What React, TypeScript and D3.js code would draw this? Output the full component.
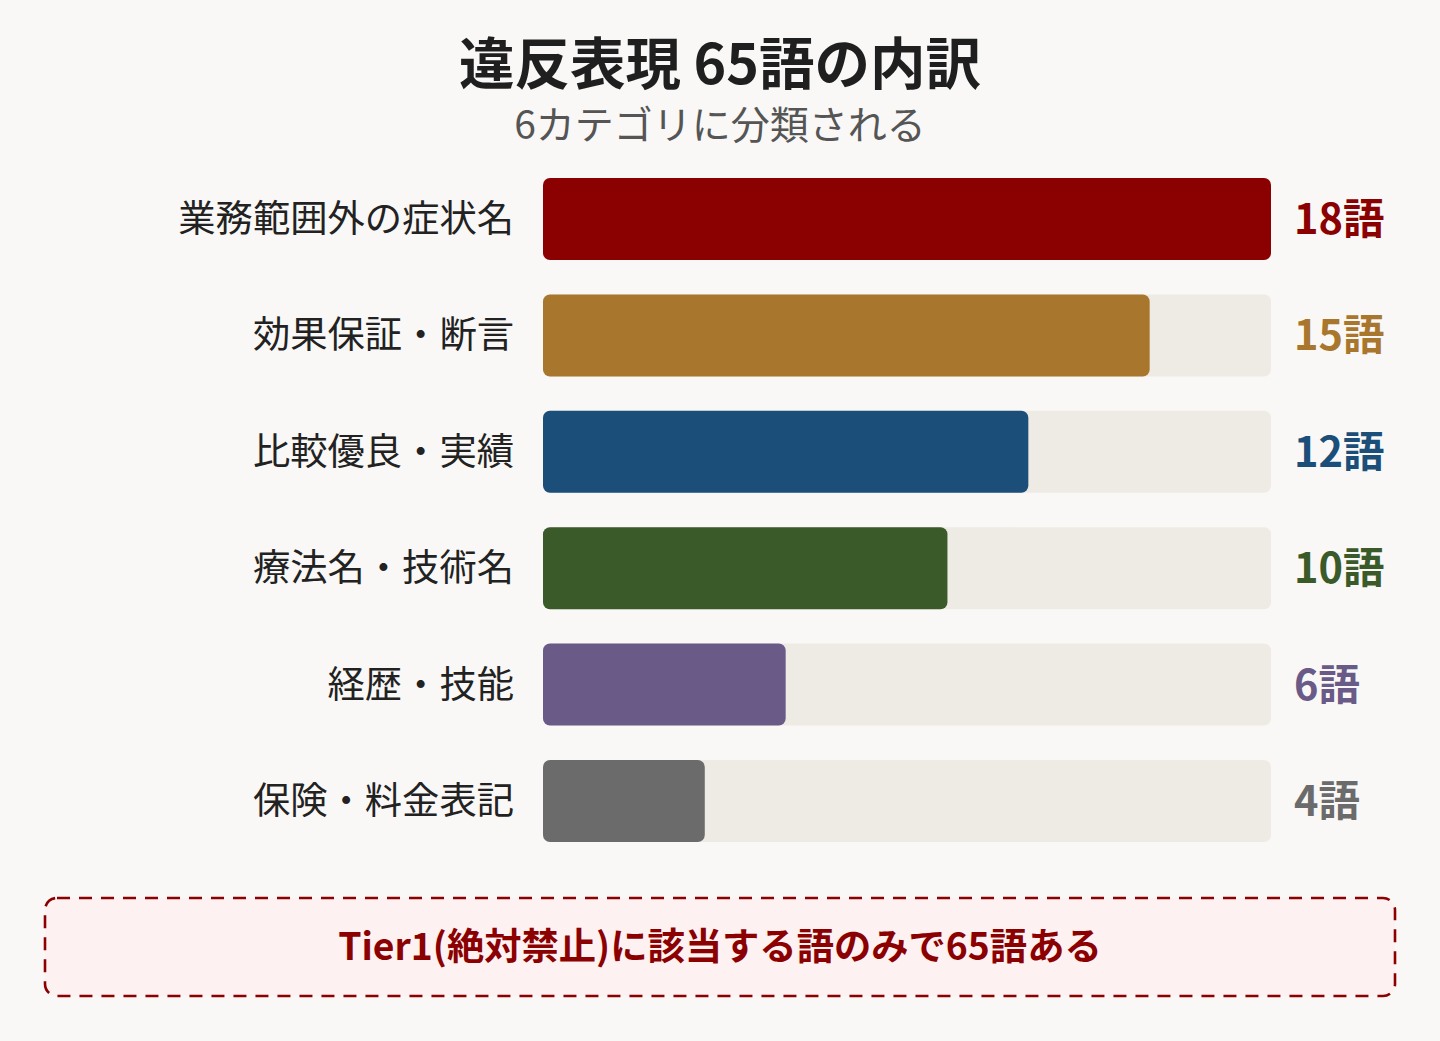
import * as d3 from "d3";

const categories = [
  "業務範囲外の症状名",
  "効果保証・断言",
  "比較優良・実績",
  "療法名・技術名",
  "経歴・技能",
  "保険・料金表記",
];
const counts = [18, 15, 12, 10, 6, 4];
const colors = ["#8b0000", "#a8762c", "#1b4e79", "#3b5a2a", "#6a5a87", "#6b6b6b"];

const title = "違反表現 65語の内訳";
const subtitle = "6カテゴリに分類される";
const note = "Tier1(絶対禁止)に該当する語のみで65語ある";

const W = 1440;
const H = 1041;
const FONT = "'Noto Sans CJK JP', 'Noto Sans', sans-serif";

export default function App() {
  const x = d3.scaleLinear().domain([0, 18]).range([543, 1271]);
  const y = d3.scaleBand<string>().domain(categories).range([178, 842]).paddingInner(0.295).paddingOuter(0);
  const bw = y.bandwidth();

  return (
    <svg
      width={W}
      height={H}
      viewBox={`0 0 ${W} ${H}`}
      style={{ position: "absolute", left: 0, top: 0, display: "block", background: "#f9f8f6" }}
      fontFamily={FONT}
    >
      <rect width={W} height={H} fill="#f9f8f6" />
      <text x={720} y={84} textAnchor="middle" fontSize={55.5} fontWeight={700} fill="#1f1f1f">
        {title}
      </text>
      <text x={720} y={139} textAnchor="middle" fontSize={39} fill="#555">
        {subtitle}
      </text>

      {categories.map((c, i) => {
        const yy = y(c) ?? 0;
        return (
          <g key={c}>
            <rect x={x(0)} y={yy} width={x(18) - x(0)} height={bw} rx={7} fill="#eeebe4" />
            <rect x={x(0)} y={yy} width={x(counts[i]) - x(0)} height={bw} rx={7} fill={colors[i]} />
            <text
              x={514}
              y={yy + bw / 2}
              dy="0.35em"
              textAnchor="end"
              fontSize={37.3}
              fill="#222"
            >
              {c}
            </text>
            <text
              x={1294}
              y={yy + bw / 2}
              dy="0.36em"
              fontSize={41.5}
              fontWeight={700}
              fill={colors[i]}
            >
              {counts[i]}語
            </text>
          </g>
        );
      })}

      <rect
        x={45}
        y={898}
        width={1350}
        height={98}
        rx={12}
        fill="#fdf1f1"
        stroke="#8b0000"
        strokeWidth={2.6}
        strokeDasharray="13 9"
      />
      <text x={720} y={947} dy="0.36em" textAnchor="middle" fontSize={37.3} fontWeight={700} fill="#8b0000">
        {note}
      </text>
    </svg>
  );
}
